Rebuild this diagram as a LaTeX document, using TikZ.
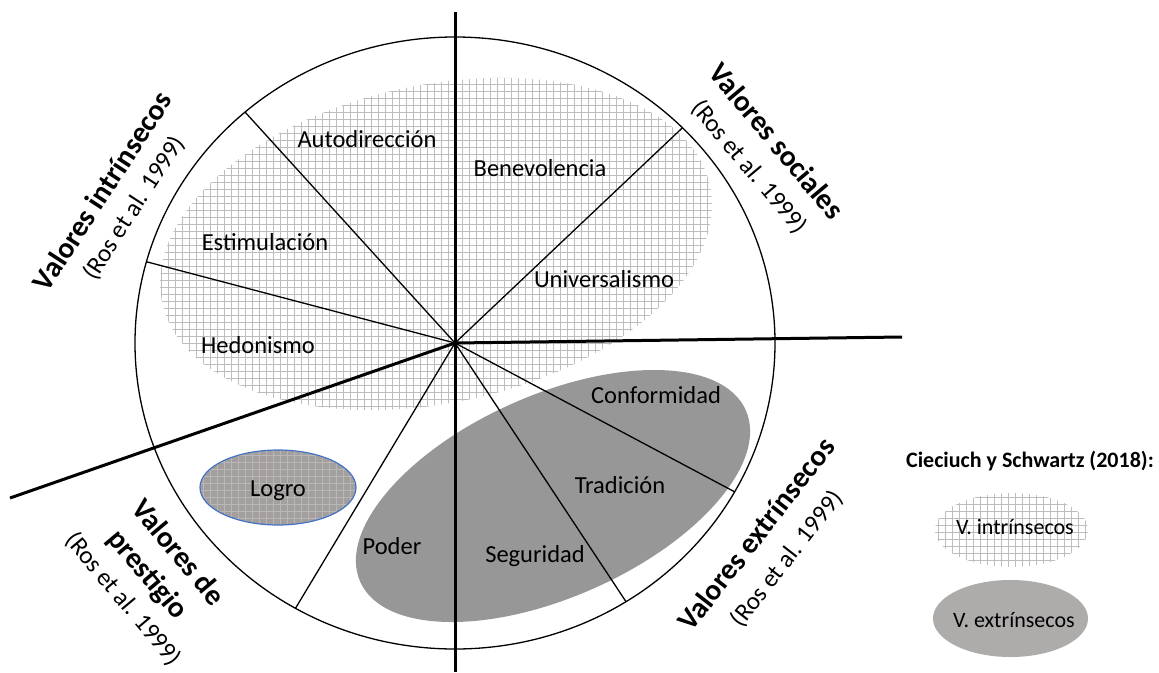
\documentclass[tikz,border=0pt]{standalone}
\usepackage{fontspec}
\setmainfont{Carlito}
\usetikzlibrary{calc}
\definecolor{hatchgray}{HTML}{BDBDBD}
\definecolor{extgray}{HTML}{979797}
\definecolor{leggray}{HTML}{AEABAB}
\definecolor{logrogray}{HTML}{A39F9F}
\definecolor{logroline}{HTML}{B9B6B6}
\definecolor{logroblue}{HTML}{4472C4}
\begin{document}
\begin{tikzpicture}[x=1pt,y=-1pt,
  thinline/.style={line width=1.3pt, black},
  thickline/.style={line width=3pt, black},
  hatch/.style={draw=hatchgray, line width=1pt},
  lbl/.style={font=\fontsize{24.5}{28}\selectfont, text height=17pt, text depth=5pt, inner sep=0pt},
  legtxt/.style={font=\fontsize{22}{26}\selectfont, text height=15.5pt, text depth=4.5pt, inner sep=0pt},
  title/.style={font=\fontsize{29.5}{34}\selectfont\bfseries, inner sep=0pt},
  ref/.style={font=\fontsize{25}{30}\selectfont, inner sep=0pt},
]
\useasboundingbox (0,672) rectangle (1159,0);
\fill[white] (0,672) rectangle (1159,0);
\coordinate (c) at (455,343);
\coordinate (hc) at (436,244);
\coordinate (gc) at (553,496);
\coordinate (lc) at (278,487.5);
\coordinate (li) at (1011.5,530);
\coordinate (le) at (1010.5,618.5);

% intrinsic values (hatched)
\begin{scope}
  \clip[rotate around={12:(hc)}] (hc) ellipse [x radius=280, y radius=159];
  \draw[hatch] (140,420) grid[step=7pt] (730,70);
\end{scope}

% extrinsic values (grey)
\fill[extgray, rotate around={24:(gc)}] (gc) ellipse [x radius=211, y radius=101];

% Logro
\begin{scope}
  \clip (lc) ellipse [x radius=78, y radius=37.5];
  \fill[logrogray] (lc) ellipse [x radius=78, y radius=37.5];
  \draw[draw=logroline, line width=1pt] (195,530) grid[step=7pt] (360,445);
\end{scope}
\draw[logroblue, line width=1.2pt] (lc) ellipse [x radius=78, y radius=37.5];

% legend shapes
\begin{scope}
  \clip (li) ellipse [x radius=76.5, y radius=37];
  \draw[hatch] (930,570) grid[step=7pt] (1095,490);
\end{scope}
\fill[leggray] (le) ellipse [x radius=77.5, y radius=38.5];

% circle and spokes
\draw[thinline] (c) ellipse [x radius=320, y radius=306];
\coordinate (s1) at ($(c)+(-131:320 and 306)$);
\coordinate (s2) at ($(c)+(-164.6:320 and 306)$);
\coordinate (s3) at ($(c)+(-44.7:320 and 306)$);
\coordinate (s4) at ($(c)+(29.1:320 and 306)$);
\coordinate (s5) at ($(c)+(57.7:320 and 306)$);
\coordinate (s6) at ($(c)+(119.9:320 and 306)$);
\foreach \s in {s1,s2,s3,s4,s5,s6} \draw[thinline] (c) -- (\s);

% thick axes
\coordinate (vtop) at (455,12);
\coordinate (vbot) at (455,672);
\coordinate (hr) at (902,337);
\coordinate (ll) at (10,498);
\draw[thickline] (vtop) -- (vbot);
\draw[thickline] (c) -- (hr);
\draw[thickline] (c) -- (ll);

% value labels
\node[lbl] (autod) at (367,141) {Autodirección};
\node[lbl] (benev) at (540,170) {Benevolencia};
\node[lbl] (estim) at (265,244) {Estimulación};
\node[lbl] (univ) at (604,281) {Universalismo};
\node[lbl] (hedon) at (258,347) {Hedonismo};
\node[lbl] (conf) at (656,397) {Conformidad};
\node[lbl] (trad) at (620,487) {Tradición};
\node[lbl] (segur) at (535,556) {Seguridad};
\node[lbl] (poder) at (392,548) {Poder};
\node[lbl] (logro) at (278,490) {Logro};

% quadrant titles
\node[title, rotate=57] (tintr) at (102,191) {Valores intrínsecos};
\node[ref, rotate=57] (rintr) at (134,208) {(Ros et al. 1999)};
\node[title, rotate=-50] (tsoc) at (777,141) {Valores sociales};
\node[ref, rotate=-50] (rsoc) at (749,167) {(Ros et al. 1999)};
\node[title, rotate=52] (textr) at (756,534) {Valores extrínsecos};
\node[ref, rotate=52] (rextr) at (787,559) {(Ros et al. 1999)};
\node[title, rotate=-50] (tpres1) at (179,552) {Valores de};
\node[title, rotate=-50] (tpres2) at (147,575) {prestigio};
\node[ref, rotate=-50] (rpres) at (123,599) {(Ros et al. 1999)};

% legend
\node[font=\fontsize{22}{26}\selectfont\bfseries, inner sep=0pt] (legt) at (1030,461) {Cieciuch y Schwartz (2018):};
\node[legtxt] (lint) at (1015,529) {V. intrínsecos};
\node[legtxt] (lext) at (1014,622) {V. extrínsecos};
\end{tikzpicture}
\end{document}
